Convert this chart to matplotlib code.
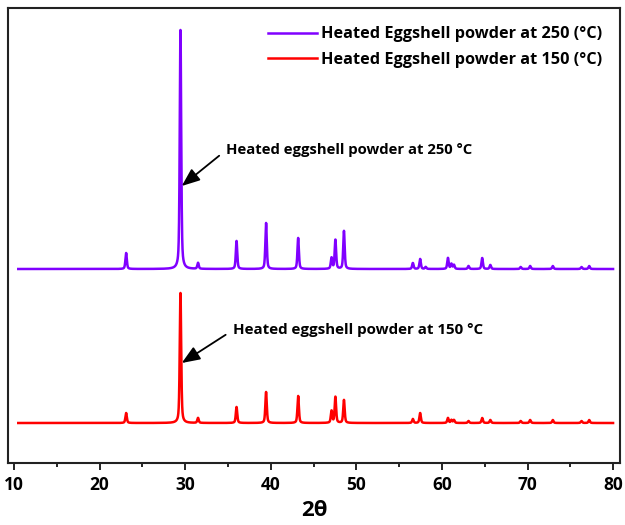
import numpy as np
import matplotlib
matplotlib.use("Agg")
import matplotlib.pyplot as plt
from matplotlib.ticker import MultipleLocator

plt.rcParams["font.family"] = ["Open Sans", "DejaVu Sans"]
plt.rcParams["font.weight"] = "bold"

# peak positions (2theta) and heights (arb. units)
peaks_250 = [23.1, 29.45, 31.5, 36.0, 39.45, 43.2, 47.1, 47.55, 48.55, 56.6, 57.45,
             58.1, 60.7, 61.1, 61.4, 63.1, 64.7, 65.65, 69.2, 70.3, 72.95, 76.3, 77.2]
heights_250 = [16, 239, 6, 28, 46, 31, 11, 29, 38, 6, 10,
               2, 11, 5, 4, 3, 11, 4, 2, 3, 3, 2, 3]

peaks_150 = [23.1, 29.45, 31.5, 36.0, 39.45, 43.2, 47.1, 47.55, 48.55, 56.6, 57.45,
             60.7, 61.1, 61.4, 63.1, 64.7, 65.65, 69.2, 70.3, 72.95, 76.3, 77.2]
heights_150 = [10, 130, 5, 16, 31, 27, 12, 26, 23, 4, 10,
               5, 3, 3, 2, 5, 3, 2, 3, 3, 2, 3]

offset_250 = 154
label_250 = "Heated Eggshell powder at 250 (°C)"
label_150 = "Heated Eggshell powder at 150 (°C)"


def pattern(x, centers, heights, fwhm=0.2, eta=0.5):
    y = np.zeros_like(x)
    for c, h in zip(centers, heights):
        g = np.exp(-4 * np.log(2) * ((x - c) / fwhm) ** 2)
        lor = 1 / (1 + 4 * ((x - c) / fwhm) ** 2)
        y += h * (eta * lor + (1 - eta) * g)
    return y


two_theta = np.arange(10.5, 80.0, 0.01)

fig = plt.figure(figsize=(6.25, 5.25), dpi=100)
ax = fig.add_axes([8 / 625, 62 / 525, 612 / 625, 455 / 525])

ax.plot(two_theta, pattern(two_theta, peaks_250, heights_250) + offset_250,
        color="#8000ff", lw=1.8, label=label_250)
ax.plot(two_theta, pattern(two_theta, peaks_150, heights_150),
        color="#ff0000", lw=1.8, label=label_150)

arrow = dict(arrowstyle="-|>,head_length=0.5,head_width=0.2", color="black",
             lw=1.3, mutation_scale=22, relpos=(0, 0.5), shrinkA=4, shrinkB=0)
ax.annotate("Heated eggshell powder at 250 °C", xy=(29.6, 237), xytext=(34.8, 273),
            fontsize=10.7, fontweight="bold", va="center", arrowprops=arrow)
ax.annotate("Heated eggshell powder at 150 °C", xy=(29.6, 60), xytext=(35.6, 93),
            fontsize=10.9, fontweight="bold", va="center", arrowprops=arrow)

ax.set_xlim(9.3, 80.8)
ax.set_ylim(-40, 415)
ax.set_yticks([])
ax.xaxis.set_major_locator(MultipleLocator(10))
ax.xaxis.set_minor_locator(MultipleLocator(5))
ax.tick_params(axis="x", which="major", length=5, width=1.2, labelsize=12.5, pad=4)
ax.tick_params(axis="x", which="minor", length=3, width=1.2)
for lbl in ax.get_xticklabels():
    lbl.set_fontweight("bold")
for sp in ax.spines.values():
    sp.set_linewidth(1.5)
    sp.set_color("#222222")
ax.set_xlabel("2θ", fontsize=16, fontweight="bold", labelpad=5)

ax.legend(loc="upper right", frameon=False, fontsize=11.7, handlelength=3.0,
          handletextpad=0.3, labelspacing=0.6, borderaxespad=0.9,
          bbox_to_anchor=(1.006, 1.006))

fig.savefig("out.png", dpi=100)
